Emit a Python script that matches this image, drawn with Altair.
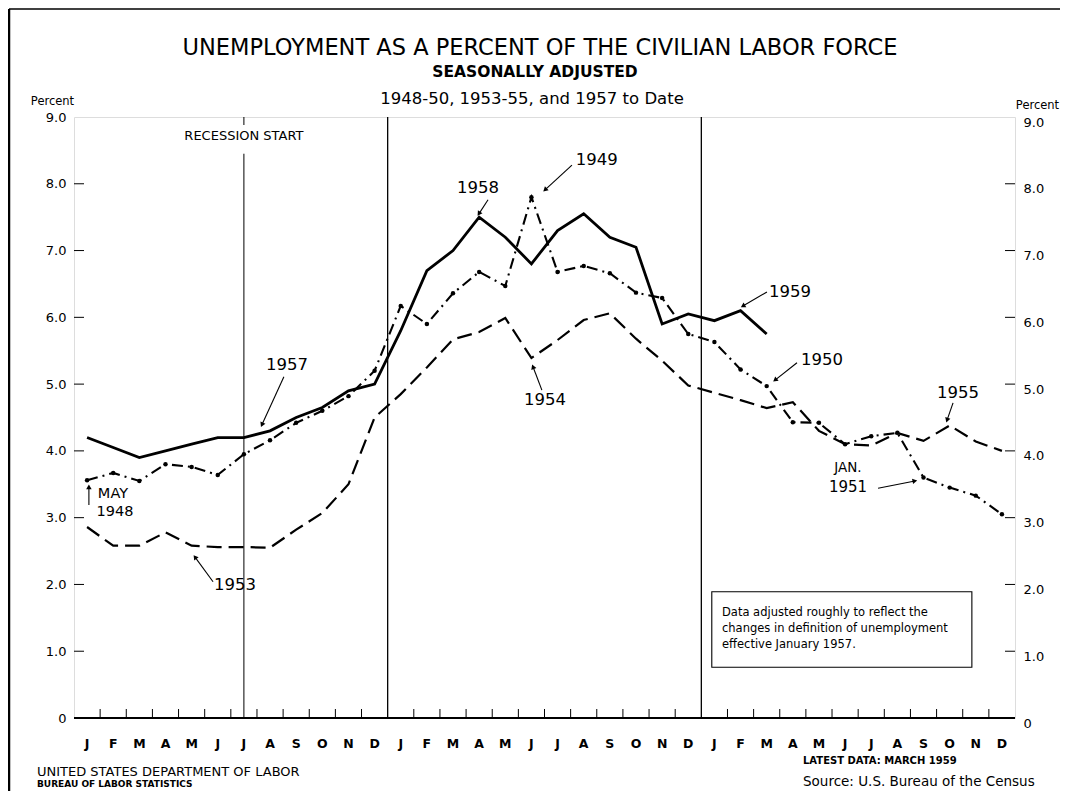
import math
import altair as alt
import pandas as pd

FONT = "DejaVu Sans"

month_letters = ['J', 'F', 'M', 'A', 'M', 'J', 'J', 'A', 'S', 'O', 'N', 'D']

# Unemployment rate, percent, one value per month
# 1957-59 line: Jan 1957 .. Mar 1959
s_1957 = [4.2, 4.05, 3.9, 4.0, 4.1, 4.2, 4.2, 4.3, 4.5, 4.65, 4.9, 5.0,
          5.8, 6.7, 7.0, 7.5, 7.2, 6.8, 7.3, 7.55, 7.2, 7.05, 5.9, 6.05,
          5.95, 6.1, 5.75]
# 1948-51 line: May 1948 .. Apr 1951
s_1948 = [3.56, 3.67, 3.55, 3.8, 3.76, 3.64, 3.95, 4.16, 4.42, 4.6, 4.82, 5.2,
          6.17, 5.9, 6.36, 6.68, 6.47, 7.8, 6.68, 6.77, 6.66, 6.37, 6.29, 5.75,
          5.63, 5.22, 4.97, 4.43, 4.42, 4.1, 4.22, 4.27, 3.6, 3.45, 3.33, 3.05]
# 1953-55 line: Jan 1953 .. Dec 1955
s_1953 = [2.86, 2.58, 2.58, 2.78, 2.58, 2.56, 2.56, 2.55, 2.82, 3.07, 3.5, 4.5,
          4.85, 5.25, 5.67, 5.78, 5.99, 5.39, 5.66, 5.96, 6.06, 5.68, 5.35, 4.98,
          4.87, 4.76, 4.64, 4.73, 4.3, 4.1, 4.08, 4.27, 4.15, 4.38, 4.14, 4.0]

y_ticks = [0, 1, 2, 3, 4, 5, 6, 7, 8, 9]
n_months = 36

# annotation labels: text, month position, percent position, font size
labels = [
    ("1957", 8.15, 5.29, 16.5), ("1958", 15.46, 7.94, 16.5), ("1949", 20.0, 8.36, 16.5),
    ("1954", 18.02, 4.76, 16.5), ("1953", 6.16, 1.99, 16.5), ("MAY", 1.49, 3.36, 14.5),
    ("1948", 1.57, 3.08, 14.5), ("1959", 27.39, 6.38, 16.5), ("1950", 28.62, 5.36, 16.5),
    ("1955", 33.82, 4.87, 16.5), ("JAN.", 29.61, 3.74, 13.5), ("1951", 29.61, 3.46, 15),
]
# arrows: tail (month, pct) -> tip (month, pct)
arrows = [
    (8.03, 5.11, 7.19, 4.39), (15.84, 7.76, 15.49, 7.55), (19.05, 8.28, 18.02, 7.91),
    (17.9, 4.91, 17.56, 5.26), (5.32, 2.04, 4.63, 2.41), (0.57, 3.19, 0.57, 3.46),
    (26.51, 6.38, 25.59, 6.17), (27.66, 5.32, 26.82, 5.06), (33.63, 4.72, 33.4, 4.46),
    (30.76, 3.44, 32.17, 3.55),
]
note_lines = ["Data adjusted roughly to reflect the",
              "changes in definition  of  unemployment",
              "effective January 1957."]

W, H = 941, 601
PXM, PXV = W / n_months, H / 9.0

xs = alt.Scale(domain=[0, n_months], nice=False, zero=False)
ys = alt.Scale(domain=[0, 9], nice=False, zero=True)


def X(f):
    return alt.X(f, type="quantitative", scale=xs, axis=None)


def Y(f):
    return alt.Y(f, type="quantitative", scale=ys, axis=None)


def sdf(vals):
    return pd.DataFrame({"m": [i + 0.5 for i in range(len(vals))], "v": vals})


d57, d48, d53 = sdf(s_1957), sdf(s_1948), sdf(s_1953)

line57 = alt.Chart(d57).mark_line(color="black", strokeWidth=2.8).encode(x=X("m"), y=Y("v"))
line48 = alt.Chart(d48).mark_line(color="black", strokeWidth=2.1, strokeDash=[11, 5, 2, 5]).encode(x=X("m"), y=Y("v"))
dots48 = alt.Chart(d48).mark_point(color="black", filled=True, size=20, opacity=1).encode(x=X("m"), y=Y("v"))
line53 = alt.Chart(d53).mark_line(color="black", strokeWidth=2.2, strokeDash=[15, 7]).encode(x=X("m"), y=Y("v"))

# vertical divider lines
vl = pd.DataFrame({"m": [12, 24, 6.5, 6.5], "v1": [0, 0, 0, 8.88], "v2": [9, 9, 8.45, 9],
                   "w": [1.3, 1.3, 1.0, 1.0]})
vlines = alt.Chart(vl).mark_rule(color="black").encode(
    x=X("m"), y=Y("v1"), y2="v2", strokeWidth=alt.StrokeWidth("w:Q", scale=None))

# inner tick marks
lt = pd.DataFrame({"v": y_ticks[1:-1]})
left_ticks = alt.Chart(lt).mark_rule(color="black", strokeWidth=1).encode(
    y=Y("v"), x=alt.value(0), x2=alt.value(10))
right_ticks = alt.Chart(lt).mark_rule(color="black", strokeWidth=1).encode(
    y=Y("v"), x=alt.value(W - 10), x2=alt.value(W))
bt = pd.DataFrame({"m": [k for k in range(1, n_months) if k % 12 != 0]})
bottom_ticks = alt.Chart(bt).mark_rule(color="black", strokeWidth=1).encode(
    x=X("m"), y=alt.value(H), y2=alt.value(H - 9))
baseline = alt.Chart(pd.DataFrame({"v": [0]})).mark_rule(color="black", strokeWidth=2.2).encode(
    y=Y("v"), x=alt.value(0), x2=alt.value(W))

# month letters under the plot
ml = pd.DataFrame({"m": [i + 0.5 for i in range(n_months)],
                   "t": [month_letters[i % 12] for i in range(n_months)]})
month_text = alt.Chart(ml).mark_text(font=FONT, fontSize=12.5, fontWeight="bold", color="black",
                                     baseline="middle").encode(
    x=X("m"), y=alt.value(H + 26), text="t")

# y axes
ylabel_expr = "datum.value == 0 ? '0' : format(datum.value, '.1f')"
yaxis_l = alt.Axis(values=y_ticks, labelExpr=ylabel_expr, ticks=False, domain=False, grid=False,
                   title="Percent", titleAngle=0, titleX=-22, titleY=-16, titleAlign="center",
                   titleBaseline="middle", titleFont=FONT, titleFontSize=11.5, titleFontWeight="normal",
                   titleColor="black", labelFont=FONT, labelFontSize=13, labelColor="black",
                   labelPadding=8, labelFlush=False)
yaxis_r = alt.Axis(values=y_ticks, labelExpr=ylabel_expr, ticks=False, domain=False, grid=False,
                   orient="right", title="Percent", titleAngle=0, titleX=22, titleY=-12,
                   titleAlign="center", titleBaseline="middle", titleFont=FONT, titleFontSize=11.5,
                   titleFontWeight="normal", titleColor="black", labelFont=FONT, labelFontSize=13,
                   labelColor="black", labelPadding=8, labelOffset=5, labelFlush=False)
ax0 = pd.DataFrame({"m": [0.0], "v": [0.0]})
axes_left = alt.Chart(ax0).mark_point(opacity=0).encode(
    x=X("m"), y=alt.Y("v", type="quantitative", scale=ys, axis=yaxis_l))
axes_right = alt.Chart(ax0).mark_point(opacity=0).encode(
    x=X("m"), y=alt.Y("v", type="quantitative", scale=ys, axis=yaxis_r))

# annotations
lab_df = pd.DataFrame(labels, columns=["t", "m", "v", "fs"])
ann_text = alt.Chart(lab_df).mark_text(font=FONT, color="black").encode(
    x=X("m"), y=Y("v"), text="t", size=alt.Size("fs:Q", scale=None))
arr_df = pd.DataFrame(arrows, columns=["m1", "v1", "m2", "v2"])
arr_df["ang"] = [
    math.degrees(math.atan2((r.m2 - r.m1) * PXM, (r.v2 - r.v1) * PXV)) % 360
    for r in arr_df.itertuples()
]
arr_lines = alt.Chart(arr_df).mark_rule(color="black", strokeWidth=1.1).encode(
    x=X("m1"), y=Y("v1"), x2="m2", y2="v2")
arr_heads = alt.Chart(arr_df).mark_point(shape="triangle-up", filled=True, color="black",
                                         size=30, opacity=1).encode(
    x=X("m2"), y=Y("v2"), angle=alt.Angle("ang:Q", scale=None))

rec_text = alt.Chart(pd.DataFrame({"t": ["RECESSION  START"], "m": [6.5], "v": [8.71]})).mark_text(
    font=FONT, fontSize=13, color="black").encode(x=X("m"), y=Y("v"), text="t")

# note box
box = alt.Chart(pd.DataFrame({"m1": [24.4], "m2": [34.35], "v1": [1.89], "v2": [0.76]})).mark_rect(
    fill="white", stroke="black", strokeWidth=1.1).encode(x=X("m1"), x2="m2", y=Y("v1"), y2="v2")
note_df = pd.DataFrame({"t": note_lines, "m": [24.79] * 3, "v": [1.57, 1.33, 1.09]})
note = alt.Chart(note_df).mark_text(font=FONT, fontSize=11.5, align="left", color="black").encode(
    x=X("m"), y=Y("v"), text="t")


def txt(s, x, y, size, weight="normal", align="left"):
    return alt.Chart(alt.Data(values=[{}])).mark_text(
        text=s, font=FONT, fontSize=size, fontWeight=weight, align=align,
        baseline="middle", color="black").encode(x=alt.value(x), y=alt.value(y))


title1 = txt("UNEMPLOYMENT AS A PERCENT OF THE CIVILIAN LABOR FORCE", 466, -69, 22.5, align="center")
title2 = txt("SEASONALLY ADJUSTED", 461, -45, 15.5, weight="bold", align="center")
title3 = txt("1948-50,  1953-55,  and  1957 to Date", 458, -18, 16.5, align="center")
foot1 = txt("UNITED STATES DEPARTMENT OF LABOR", -37, 655, 13)
foot2 = txt("BUREAU OF LABOR STATISTICS", -37, 667, 9, weight="bold")
foot3 = txt("LATEST  DATA:  MARCH 1959", 729, 644, 10, weight="bold")
foot4 = txt("Source:  U.S. Bureau of the Census", 729, 665, 13.5)

frame = alt.Chart(alt.Data(values=[{}])).mark_rule(color="black", strokeWidth=2.5).encode(
    x=alt.value(-65), x2=alt.value(-65), y=alt.value(-108), y2=alt.value(674))
frame_top = alt.Chart(alt.Data(values=[{}])).mark_rule(color="black", strokeWidth=1.5).encode(
    x=alt.value(-65), x2=alt.value(986), y=alt.value(-108))

chart = alt.layer(
    axes_left, axes_right, vlines, left_ticks, right_ticks, bottom_ticks, baseline, month_text,
    line53, line48, dots48, line57, arr_lines, arr_heads, ann_text, rec_text, box, note,
    title1, title2, title3, foot1, foot2, foot3, foot4, frame, frame_top,
).resolve_axis(y="independent").properties(
    width=W, height=H,
    autosize=alt.AutoSizeParams(type="none"),
    padding={"left": 66, "top": 109, "right": 45, "bottom": 73},
).configure_view(stroke="black", strokeWidth=1.4).configure(background="white")

chart.save("out.html", embed_options={"renderer": "svg", "actions": False})
